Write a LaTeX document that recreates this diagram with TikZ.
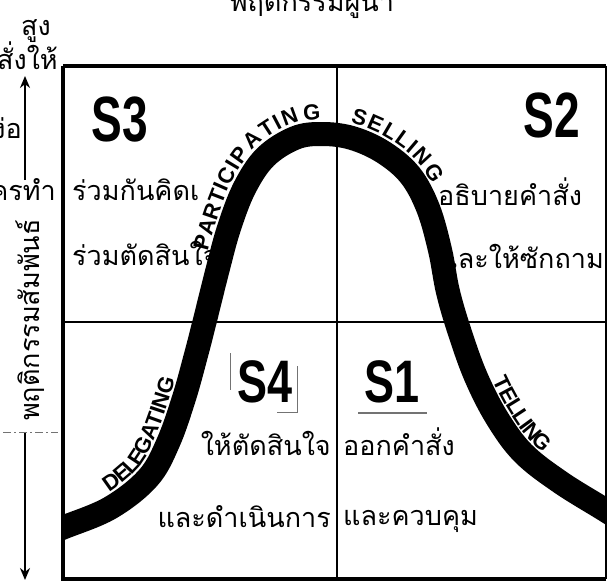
\documentclass[tikz,border=0pt]{standalone}
\usepackage{fontspec}
\setmainfont{Liberation Sans}
\newfontfamily\thai[Script=Thai]{Loma}
\usetikzlibrary{decorations.text,arrows.meta}
\newcommand\labfont{\bfseries\fontsize{22}{22}\selectfont}
\newcommand\bellpts{(32,540.5) (62,528) (110,508) (148,478) (168,443) (184,398) (196,355) (204.5,322) (217.5,270) (229,228) (244.5,188) (265.5,157) (295,138) (322,134) (352,138) (383,152) (410,175) (428,208) (440,250) (448,292) (460,333) (476,377) (497,418) (523,453) (560,482) (605,510) (635,529)}
\begin{document}
\begin{tikzpicture}[x=1pt,y=-1pt,
  thaitxt/.style={font=\thai\fontsize{27}{27}\selectfont, inner sep=0pt},
  sbig/.style={font=\fontsize{64}{64}\selectfont\bfseries, inner sep=0pt},
  ssmall/.style={font=\fontsize{60}{60}\selectfont\bfseries, inner sep=0pt},
  frame/.style={line width=4.5pt},
  midline/.style={line width=2.2pt},
  axisarrow/.style={line width=2.6pt, -{Stealth[length=12pt,width=10pt]}},
  faint/.style={line width=0.8pt, black!55},
  bell/.style={line width=24pt},
  curvelabel/.style={decorate, decoration={text along path, raise=14pt, text align={left indent=#1}}}
]
\useasboundingbox (0,0) rectangle (609,583);
\fill[white] (0,0) rectangle (609,583);

% title and left axis texts
\node[thaitxt, anchor=base] (title) at (312,12) {พฤติกรรมผู้นำ};
\node[thaitxt, anchor=base] (high) at (36,36) {สูง};
\node[thaitxt, anchor=base east] (l1) at (58,70) {สั่งให้};
\node[thaitxt, anchor=base east] (l2) at (22,138) {ง่อ};
\node[thaitxt, anchor=base east] (l3) at (56,200) {ครทำ};
\node[thaitxt, rotate=90] (vt) at (30,320) {พฤติกรรมสัมพันธ์};

\coordinate (ua1) at (25,180);
\coordinate (ua2) at (25,76);
\coordinate (da1) at (25,432);
\coordinate (da2) at (25,580);
\draw[axisarrow] (ua1) -- (ua2);
\draw[axisarrow] (da1) -- (da2);
\coordinate (dl1) at (3,432);
\coordinate (dl2) at (58,432);
\draw[faint, dash pattern=on 8pt off 3pt on 2pt off 3pt] (dl1) -- (dl2);

% box
\coordinate (tl) at (63,66);
\coordinate (br) at (606,579);
\coordinate (mt) at (337,66);
\coordinate (mb) at (337,579);
\coordinate (ml) at (63,322);
\coordinate (mr) at (606,322);
\draw[midline] (mt) -- (mb);
\draw[midline] (ml) -- (mr);

% quadrant texts
\node[sbig] (s3) at (120,120) {\scalebox{0.72}[1]{S3}};
\node[sbig] (s2) at (552,115) {\scalebox{0.72}[1]{S2}};
\node[ssmall] (s4) at (265,382) {\scalebox{0.75}[1]{S4}};
\node[ssmall] (s1) at (392,382) {\scalebox{0.75}[1]{S1}};

\node[thaitxt, anchor=base west] (q3a) at (72,200) {ร่วมกันคิดเ};
\node[thaitxt, anchor=base west] (q3b) at (72,265) {ร่วมตัดสินใจ};
\node[thaitxt, anchor=base west] (q2a) at (438,205) {อธิบายคำสั่ง};
\node[thaitxt, anchor=base east] (q2b) at (604,268) {และให้ซักถาม};
\node[thaitxt, anchor=base east] (q4a) at (331,455) {ให้ตัดสินใจ};
\node[thaitxt, anchor=base east] (q4b) at (331,527) {และดำเนินการ};
\node[thaitxt, anchor=base west] (q1a) at (343,455) {ออกคำสั่ง};
\node[thaitxt, anchor=base west] (q1b) at (343,525) {และควบคุม};

% faint marks around S4 / under S1
\coordinate (f1) at (230,353); \coordinate (f2) at (230,390);
\coordinate (f3) at (297,366); \coordinate (f4) at (297,412);
\coordinate (f5) at (277,412);
\coordinate (u1) at (358,413); \coordinate (u2) at (427,413);
\draw[faint] (f1) -- (f2);
\draw[faint] (f3) -- (f4) -- (f5);
\draw[faint, line width=1.2pt] (u1) -- (u2);

% bell curve
\begin{scope}
\clip (tl) rectangle (br);
\draw[bell] plot[smooth, tension=0.6] coordinates \bellpts;
\end{scope}

\path[curvelabel=93pt, decoration={text={|\labfont|DELEGATING}}] plot[smooth, tension=0.6] coordinates \bellpts;
\path[curvelabel=369pt, decoration={text={|\labfont|PARTICIPATING}}] plot[smooth, tension=0.6] coordinates \bellpts;
\path[curvelabel=565pt, decoration={text={|\labfont|SELLING}}] plot[smooth, tension=0.6] coordinates \bellpts;
\path[curvelabel=865pt, decoration={text={|\labfont|TELLING}}] plot[smooth, tension=0.6] coordinates \bellpts;

% outer frame
\draw[frame] (tl) -- (mt) -- (tl -| br);
\draw[frame] (tl) -- (tl |- br) -- (br);
\draw[line width=2.5pt] (tl -| br) -- (br);
\end{tikzpicture}
\end{document}
